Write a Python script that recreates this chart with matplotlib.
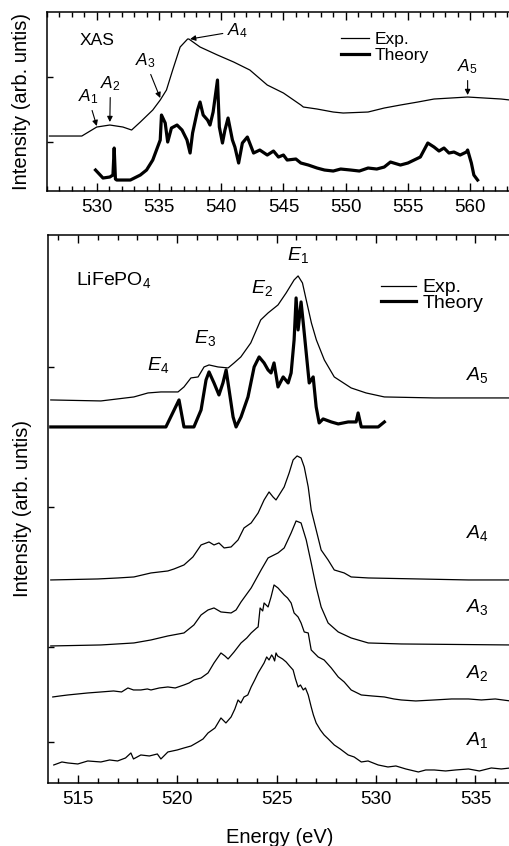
import matplotlib
matplotlib.use('Agg')
import matplotlib.pyplot as plt
from matplotlib.ticker import MultipleLocator

plt.rcParams['font.family'] = ['Liberation Sans', 'DejaVu Sans']
plt.rcParams['mathtext.fontset'] = 'custom'
plt.rcParams['mathtext.rm'] = 'Liberation Sans'
plt.rcParams['mathtext.it'] = 'Liberation Sans:italic'

# ---- top panel: O K-edge XAS ----
xas_exp_e = [526.2, 528.8, 530.0, 531.05, 532.1, 532.8, 533.5, 534.5, 535.1, 535.6, 536.1,
             536.7, 537.3, 537.4, 538.3, 539.7, 541.0, 542.3, 543.7, 545.0, 546.4, 546.6,
             547.7, 549.0, 549.8, 551.8, 553.1, 554.4, 555.8, 557.1, 559.8, 562.5, 563.2]
xas_exp_i = [55, 55, 64, 66, 64, 61, 69, 81, 91, 101, 121,
             144, 152, 152, 144, 136, 129, 121, 106, 98, 86, 84,
             82, 79, 78, 79, 83, 86, 89, 92, 94, 92, 91]

xas_th_e = [529.9, 530.5, 531.05, 531.3, 531.4, 531.5, 531.6, 532.7, 533.5, 534.0, 534.5,
            534.8, 535.1, 535.2, 535.5, 535.7, 536.0, 536.45, 536.85, 537.25, 537.5, 537.7,
            538.1, 538.3, 538.55, 538.9, 539.1, 539.35, 539.7, 539.85, 540.1, 540.3, 540.55,
            540.9, 541.1, 541.4, 541.7, 542.1, 542.6, 543.1, 543.7, 544.2, 544.6, 545.0,
            545.3, 546.0, 546.4, 547.0, 547.7, 548.3, 549.0, 549.6, 550.4, 551.1, 551.8,
            552.5, 553.1, 553.6, 554.4, 555.0, 555.5, 556.0, 556.6, 557.1, 557.5, 557.9,
            558.3, 558.7, 559.2, 559.7, 559.8, 560.1, 560.3, 560.6]
xas_th_i = [21, 13, 14, 16, 43, 12, 11, 11, 16, 21, 31,
            41, 51, 76, 68, 49, 63, 66, 61, 51, 38, 58,
            81, 89, 76, 71, 66, 79, 111, 64, 48, 61, 73,
            51, 44, 28, 48, 54, 38, 41, 36, 40, 34, 36,
            31, 32, 28, 26, 23, 21, 20, 22, 21, 20, 23,
            22, 24, 29, 26, 28, 31, 34, 48, 44, 40, 43,
            38, 39, 36, 39, 41, 28, 16, 11]

# ---- bottom panel: O K-emission, LiFePO4 ----
a5_e = [513.64, 516.16, 517.82, 518.53, 519.18, 520.04, 520.34, 520.69, 521.05, 521.35, 521.6,
        522.05, 522.56, 522.86, 523.2, 523.7, 524.2, 524.57, 525.07, 525.48, 525.88, 526.08,
        526.3, 526.49, 526.75, 527.0, 527.4, 527.9, 528.75, 529.5, 530.42, 532.93, 536.76]
a5_i = [383, 382, 386, 390, 391, 391, 396, 405, 406, 416, 418,
        416, 415, 420, 426, 440, 463, 470, 478, 490, 503, 507,
        500, 483, 460, 443, 423, 406, 395, 390, 386, 385, 385]

th_e = [513.64, 519.43, 520.09, 520.34, 520.84, 521.2, 521.45, 521.6, 521.85, 522.1, 522.3,
        522.46, 522.61, 522.81, 522.96, 523.21, 523.56, 523.87, 524.12, 524.37, 524.57, 524.72,
        524.87, 525.07, 525.33, 525.58, 525.73, 525.88, 525.98, 526.08, 526.23, 526.34, 526.49,
        526.64, 526.84, 526.99, 527.14, 527.34, 527.75, 528.1, 528.6, 529.0, 529.1, 529.26,
        530.11, 530.42]
th_i = [356, 356, 383, 356, 356, 373, 403, 411, 400, 388, 400,
        413, 393, 366, 356, 366, 386, 416, 426, 420, 413, 410,
        420, 396, 406, 400, 410, 443, 485, 453, 481, 460, 430,
        400, 406, 376, 360, 364, 361, 359, 361, 361, 370, 356,
        356, 361]

a4_e = [513.64, 516.01, 517.02, 517.82, 518.68, 519.53, 519.84, 520.34, 520.79, 521.2, 521.6,
        521.85, 522.1, 522.36, 522.71, 523.06, 523.36, 523.72, 524.07, 524.37, 524.62, 524.82,
        524.97, 525.38, 525.63, 525.83, 526.03, 526.23, 526.39, 526.59, 526.74, 526.99, 527.24,
        527.59, 527.9, 528.4, 528.75, 529.61, 534.65, 536.76]
a4_i = [203, 204, 205, 206, 210, 212, 214, 218, 226, 238, 241,
        238, 240, 235, 236, 243, 255, 260, 270, 283, 291, 286,
        283, 296, 310, 323, 327, 325, 316, 296, 273, 253, 233,
        223, 213, 210, 206, 205, 203, 203]

a3_e = [513.64, 516.16, 517.82, 518.68, 519.53, 520.34, 520.84, 521.2, 521.55, 521.85, 522.2,
        522.71, 522.96, 523.21, 523.72, 524.22, 524.57, 525.07, 525.38, 525.73, 525.98, 526.23,
        526.49, 526.74, 526.99, 527.24, 527.59, 528.1, 528.75, 529.61, 531.27, 536.76]
a3_i = [137, 138, 140, 143, 147, 150, 158, 168, 173, 175, 171,
        170, 173, 181, 195, 213, 225, 230, 235, 250, 262, 260,
        243, 220, 196, 176, 160, 151, 145, 140, 139, 138]

a2_e = [513.74, 514.1, 514.5, 515.0, 515.5, 516.16, 516.8, 517.2, 517.52, 517.8, 518.17,
        518.5, 518.68, 519.1, 519.53, 519.9, 520.34, 520.6, 520.84, 521.2, 521.55, 521.85,
        522.2, 522.4, 522.56, 522.86, 523.21, 523.5, 523.72, 524.0, 524.07, 524.17, 524.3,
        524.37, 524.57, 524.72, 524.87, 525.07, 525.38, 525.55, 525.73, 525.88, 526.08, 526.23,
        526.39, 526.59, 526.74, 527.09, 527.39, 527.75, 528.1, 528.4, 528.75, 529.26, 529.8,
        530.42, 530.9, 531.27, 532.0, 532.93, 533.8, 534.65, 535.3, 536.0, 536.76]
a2_i = [86, 87, 88, 89, 90, 91, 92, 91, 95, 93, 93,
        94, 93, 95, 96, 95, 98, 100, 103, 105, 110, 120,
        130, 127, 124, 131, 140, 145, 150, 155, 156, 175, 172,
        180, 176, 186, 198, 195, 188, 185, 180, 170, 166, 160,
        151, 150, 133, 126, 123, 115, 106, 101, 93, 88, 87,
        86, 84, 83, 82, 83, 84, 84, 83, 84, 82]

a1_e = [513.79, 514.2, 514.5, 515.0, 515.5, 516.16, 516.6, 517.0, 517.4, 517.67, 517.8,
        518.17, 518.6, 519.0, 519.18, 519.53, 520.0, 520.34, 520.7, 521.05, 521.3, 521.55,
        521.9, 522.2, 522.45, 522.71, 522.9, 523.06, 523.2, 523.36, 523.55, 523.72, 523.9,
        524.07, 524.25, 524.37, 524.5, 524.62, 524.75, 524.82, 524.9, 524.97, 525.05, 525.13,
        525.3, 525.48, 525.65, 525.83, 525.95, 526.08, 526.2, 526.34, 526.45, 526.59, 526.74,
        526.85, 526.99, 527.2, 527.39, 527.6, 527.9, 528.2, 528.6, 528.9, 529.26, 529.6,
        530.11, 530.6, 531.0, 531.5, 532.13, 532.5, 532.93, 533.5, 534.0, 534.65, 535.2,
        535.8, 536.3, 536.76]
a1_i = [18, 21, 20, 19, 22, 21, 23, 22, 25, 30, 24,
        28, 27, 29, 24, 31, 33, 35, 37, 41, 44, 50,
        55, 65, 60, 66, 74, 83, 80, 86, 88, 96, 103,
        110, 116, 120, 126, 123, 128, 126, 122, 130, 127, 126,
        124, 121, 117, 113, 104, 96, 98, 93, 95, 88, 76,
        68, 60, 53, 48, 44, 38, 34, 28, 26, 21, 22,
        18, 16, 17, 14, 11, 13, 13, 12, 13, 14, 12,
        15, 14, 15]

fig = plt.figure(figsize=(5.09, 8.46), dpi=100)
ax1 = fig.add_axes([0.0923, 0.7742, 0.912, 0.2116])
ax2 = fig.add_axes([0.0943, 0.0745, 0.91, 0.6478])

# top panel
ax1.plot(xas_exp_e, xas_exp_i, color='k', lw=0.9, label='Exp.')
ax1.plot(xas_th_e, xas_th_i, color='k', lw=2.3, label='Theory')
ax1.set_xlim(526.0, 563.3)
ax1.set_ylim(0, 179)
ax1.text(528.6, 151, 'XAS', fontsize=12.5, ha='left', va='center')

arr = dict(arrowstyle='-|>', lw=0.8, color='k', mutation_scale=8, shrinkA=1, shrinkB=0)
ax1.annotate(r'$A_1$', xy=(530.0, 65), xytext=(529.3, 94), fontsize=12.5,
             ha='center', va='center', arrowprops=arr)
ax1.annotate(r'$A_2$', xy=(531.05, 69), xytext=(531.1, 107), fontsize=12.5,
             ha='center', va='center', arrowprops=arr)
ax1.annotate(r'$A_3$', xy=(535.1, 93), xytext=(533.9, 130), fontsize=12.5,
             ha='center', va='center', arrowprops=arr)
ax1.annotate(r'$A_4$', xy=(537.5, 152), xytext=(541.3, 160), fontsize=12.5,
             ha='center', va='center', arrowprops=arr)
ax1.annotate(r'$A_5$', xy=(559.8, 96), xytext=(559.8, 124), fontsize=12.5,
             ha='center', va='center', arrowprops=arr)
ax1.legend(loc='upper left', bbox_to_anchor=(0.634, 0.89), frameon=False, fontsize=12.5,
           handlelength=1.6, handletextpad=0.3, labelspacing=0.05, borderpad=0, borderaxespad=0)

# bottom panel
for e, i in [(a5_e, a5_i), (a4_e, a4_i), (a3_e, a3_i), (a2_e, a2_i), (a1_e, a1_i)]:
    ax2.plot(e, i, color='k', lw=0.9)
ax2.lines[0].set_label('Exp.')
ax2.plot(th_e, th_i, color='k', lw=2.3, label='Theory')
ax2.set_xlim(513.5, 536.8)
ax2.set_ylim(0, 548)

ax2.text(514.9, 503, r'LiFePO$_4$', fontsize=14, ha='left', va='center')
for lab, e, i in [(r'$E_1$', 526.08, 528), (r'$E_2$', 524.27, 495),
                  (r'$E_3$', 521.4, 445), (r'$E_4$', 519.03, 418)]:
    ax2.text(e, i, lab, fontsize=14, ha='center', va='center')
for lab, i in [(r'$A_5$', 408), (r'$A_4$', 250), (r'$A_3$', 176), (r'$A_2$', 110), (r'$A_1$', 43)]:
    ax2.text(534.55, i, lab, fontsize=14, ha='left', va='center')
ax2.legend(loc='upper left', bbox_to_anchor=(0.72, 0.92), frameon=False, fontsize=14,
           handlelength=1.8, handletextpad=0.3, labelspacing=-0.1, borderpad=0, borderaxespad=0)

for ax in (ax1, ax2):
    ax.xaxis.set_major_locator(MultipleLocator(5))
    ax.xaxis.set_minor_locator(MultipleLocator(1))
    ax.tick_params(which='both', direction='in', top=True, right=False, width=1.0)
    ax.tick_params(which='major', length=6, labelsize=13.5, pad=6)
    ax.tick_params(which='minor', length=3.5)
    ax.tick_params(axis='y', labelleft=False, length=4)
    for s in ax.spines.values():
        s.set_linewidth(1.1)
    ax.spines['right'].set_visible(False)
    ax.set_ylabel('Intensity (arb. untis)', fontsize=14.5)
    ax.yaxis.set_label_coords(-0.035, 0.5)

ax1.set_yticks([49, 114])
ax2.set_yticks([41, 136, 276, 416])
ax2.set_xlabel('Energy (eV)', fontsize=14.5, labelpad=14)

fig.savefig('out.png', dpi=100)
